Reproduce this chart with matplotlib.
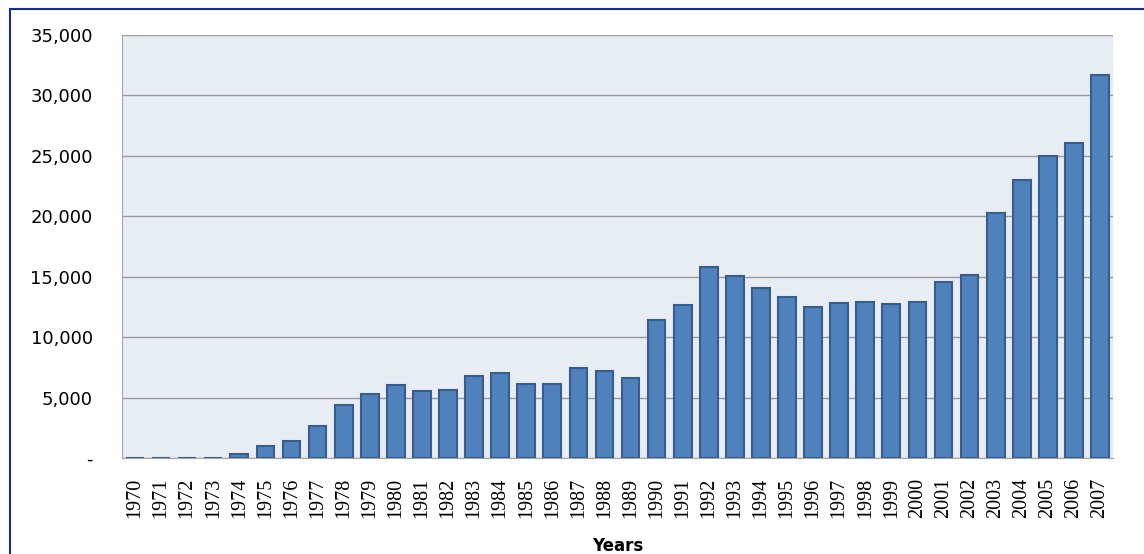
import matplotlib.pyplot as plt
from matplotlib.patches import Rectangle
from matplotlib.ticker import FuncFormatter

years = list(range(1970, 2008))
values = [30, 30, 30, 30, 300, 1000, 1400, 2650, 4400, 5300,
          6050, 5550, 5600, 6800, 7000, 6100, 6100, 7450, 7200, 6600,
          11400, 12700, 15800, 15100, 14050, 13300, 12500, 12800, 12900, 12750,
          12900, 14600, 15150, 20300, 23000, 25000, 26050, 31700]
yticks = [0, 5000, 10000, 15000, 20000, 25000, 30000, 35000]

fig = plt.figure(figsize=(11.44, 5.54), dpi=100)
ax = fig.add_axes([122/1144, 1 - 458/554, (1113 - 122)/1144, (458 - 35)/554])

# outer frame
fig.patches.append(Rectangle((10/1144, -0.01), 1.1, 1 - 9/554 + 0.01,
                             transform=fig.transFigure, fill=False,
                             edgecolor='#1a2a8c', linewidth=1.5))

ax.set_facecolor('#e8ecf3')
x = range(len(years))
ax.bar(x, values, width=0.68, color='#4f81bd', edgecolor='#385d8a',
       linewidth=1.5, zorder=3)

ax.set_xlim(-0.5, len(years) - 0.5)
ax.set_ylim(0, 35000)
ax.set_yticks(yticks)
ax.yaxis.set_major_formatter(FuncFormatter(lambda v, p: '-' if v == 0 else f'{int(v):,}'))
ax.grid(axis='y', color='#9a9a9a', linewidth=1, zorder=0)
ax.set_xticks(list(x))
ax.set_xticklabels([str(y) for y in years], rotation=90,
                   fontfamily='Liberation Serif', fontsize=14.5)
for lbl in ax.get_yticklabels():
    lbl.set_fontsize(13)
ax.tick_params(axis='both', length=0)
ax.tick_params(axis='y', pad=21)
ax.tick_params(axis='x', pad=14)
for sp in ax.spines.values():
    sp.set_color('#a6a6a6')
ax.spines['right'].set_visible(False)
ax.spines['top'].set_visible(False)
ax.set_xlabel('Years', fontweight='bold', fontsize=12, labelpad=14)

fig.savefig('out.png', dpi=100)
